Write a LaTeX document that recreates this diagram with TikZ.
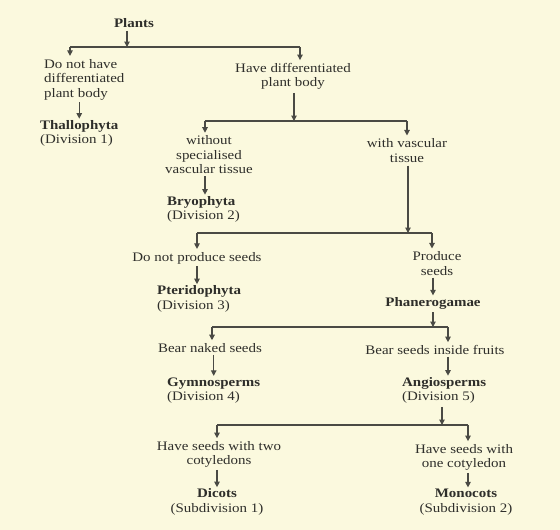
\documentclass[tikz,border=0pt]{standalone}
\usepackage{fontspec}
\setmainfont{Liberation Serif}[FakeStretch=1.15]
\usetikzlibrary{arrows.meta,calc,positioning}
\definecolor{ink}{HTML}{2E2E2A}
\definecolor{rule}{HTML}{4A4A44}
\definecolor{paper}{HTML}{FBF9DE}
\tikzset{>={Triangle[length=5.5pt,width=5.5pt]},
  every node/.style={inner sep=0pt,text=ink,font=\fontsize{13}{14.5}\selectfont},
  txt/.style={align=center},
  taxon/.style={align=left,anchor=west},
  bar/.style={draw=rule,line width=1.1pt},
  link/.style={->,draw=rule,line width=1.1pt},
  down/.style={link,shorten <=3pt},
  split/.style={link,shorten >=3pt},
  step2/.style={link,shorten <=2pt,shorten >=1.5pt}}

\begin{document}
\begin{tikzpicture}[x=1pt,y=-1pt]
\fill[paper] (0,0) rectangle (560,530);
\useasboundingbox (0,0) rectangle (560,530);
% plant body
\node[txt] (plants) at (134,23) {\textbf{Plants}};
\node[taxon] (noHave) at (44,79.5) {Do not have\\differentiated\\plant body};
\node[taxon] (thallo) at (40,133.5) {\textbf{Thallophyta}\\(Division 1)};
\node[txt] (have) at (293,76.5) {Have differentiated\\plant body};
% vascular tissue
\node[txt] (without) at (209,155) {without\\specialised\\vascular tissue};
\node[txt] (withV) at (407,150.5) {with vascular\\tissue};
\node[taxon] (bryo) at (167,209.5) {\textbf{Bryophyta}\\(Division 2)};
% seeds
\node[txt] (noSeed) at (197,258) {Do not produce seeds};
\node[txt] (seeds) at (437,263.5) {Produce\\seeds};
\node[taxon] (pterido) at (157,299) {\textbf{Pteridophyta}\\(Division 3)};
\node[txt] (phanero) at (433,303) {\textbf{Phanerogamae}};
% fruits
\node[txt] (naked) at (210,348) {Bear naked seeds};
\node[txt] (fruits) at (435,350) {Bear seeds inside fruits};
\node[taxon] (gymno) at (167,390.5) {\textbf{Gymnosperms}\\(Division 4)};
\node[taxon] (angio) at (402,390.5) {\textbf{Angiosperms}\\(Division 5)};
% cotyledons
\node[txt] (two) at (219,454.5) {Have seeds with two\\cotyledons};
\node[txt] (one) at (464,457.5) {Have seeds with\\one cotyledon};
\node[txt] (dicots) at (217,502) {\textbf{Dicots}\\(Subdivision 1)};
\node[txt] (monocots) at (466,502) {\textbf{Monocots}\\(Subdivision 2)};

% branch points
\coordinate (j1) at (127,47); \coordinate (l1) at (70,47); \coordinate (r1) at (300,47);
\coordinate (j2) at (294,121); \coordinate (l2) at (205,121); \coordinate (r2) at (407,121);
\coordinate (j3) at (408,233); \coordinate (l3) at (197,233); \coordinate (r3) at (432,233);
\coordinate (j4) at (433,327); \coordinate (l4) at (212,327); \coordinate (r4) at (448,327);
\coordinate (j5) at (442,425); \coordinate (l5) at (217,425); \coordinate (r5) at (468,425);

\draw[down] (plants.south -| j1) -- (j1);
\draw[bar] (l1) -- (r1);
\draw[split] (l1) -- (l1 |- noHave.north);
\draw[split] (r1) -- (r1 |- have.north);
\draw[step2] (noHave.south -| thallo) -- (thallo.north);

\draw[down] (have.south -| j2) -- (j2);
\draw[bar] (l2) -- (r2);
\draw[split] (l2) -- (l2 |- without.north);
\draw[split] (r2) -- (r2 |- withV.north);
\draw[step2] (without.south -| l2) -- (bryo.north -| l2);

\draw[down] (withV.south -| j3) -- (j3);
\draw[bar] (l3) -- (r3);
\draw[split] (l3) -- (l3 |- noSeed.north);
\draw[split] (r3) -- (r3 |- seeds.north);
\draw[step2] (noSeed.south) -- (noSeed.south |- pterido.north);
\draw[step2] (seeds.south -| phanero) -- (phanero.north);

\draw[down] (phanero.south -| j4) -- (j4);
\draw[bar] (l4) -- (r4);
\draw[split] (l4) -- (l4 |- naked.north);
\draw[split] (r4) -- (r4 |- fruits.north);
\draw[step2] (naked.south -| gymno) -- (gymno.north);
\draw[step2] (fruits.south -| r4) -- (angio.north -| r4);

\draw[down] (angio.south -| j5) -- (j5);
\draw[bar] (l5) -- (r5);
\draw[split] (l5) -- (l5 |- two.north);
\draw[split] (r5) -- (r5 |- one.north);
\draw[step2] (two.south -| dicots) -- (dicots.north);
\draw[step2] (one.south -| r5) -- (monocots.north -| r5);
\end{tikzpicture}
\end{document}
